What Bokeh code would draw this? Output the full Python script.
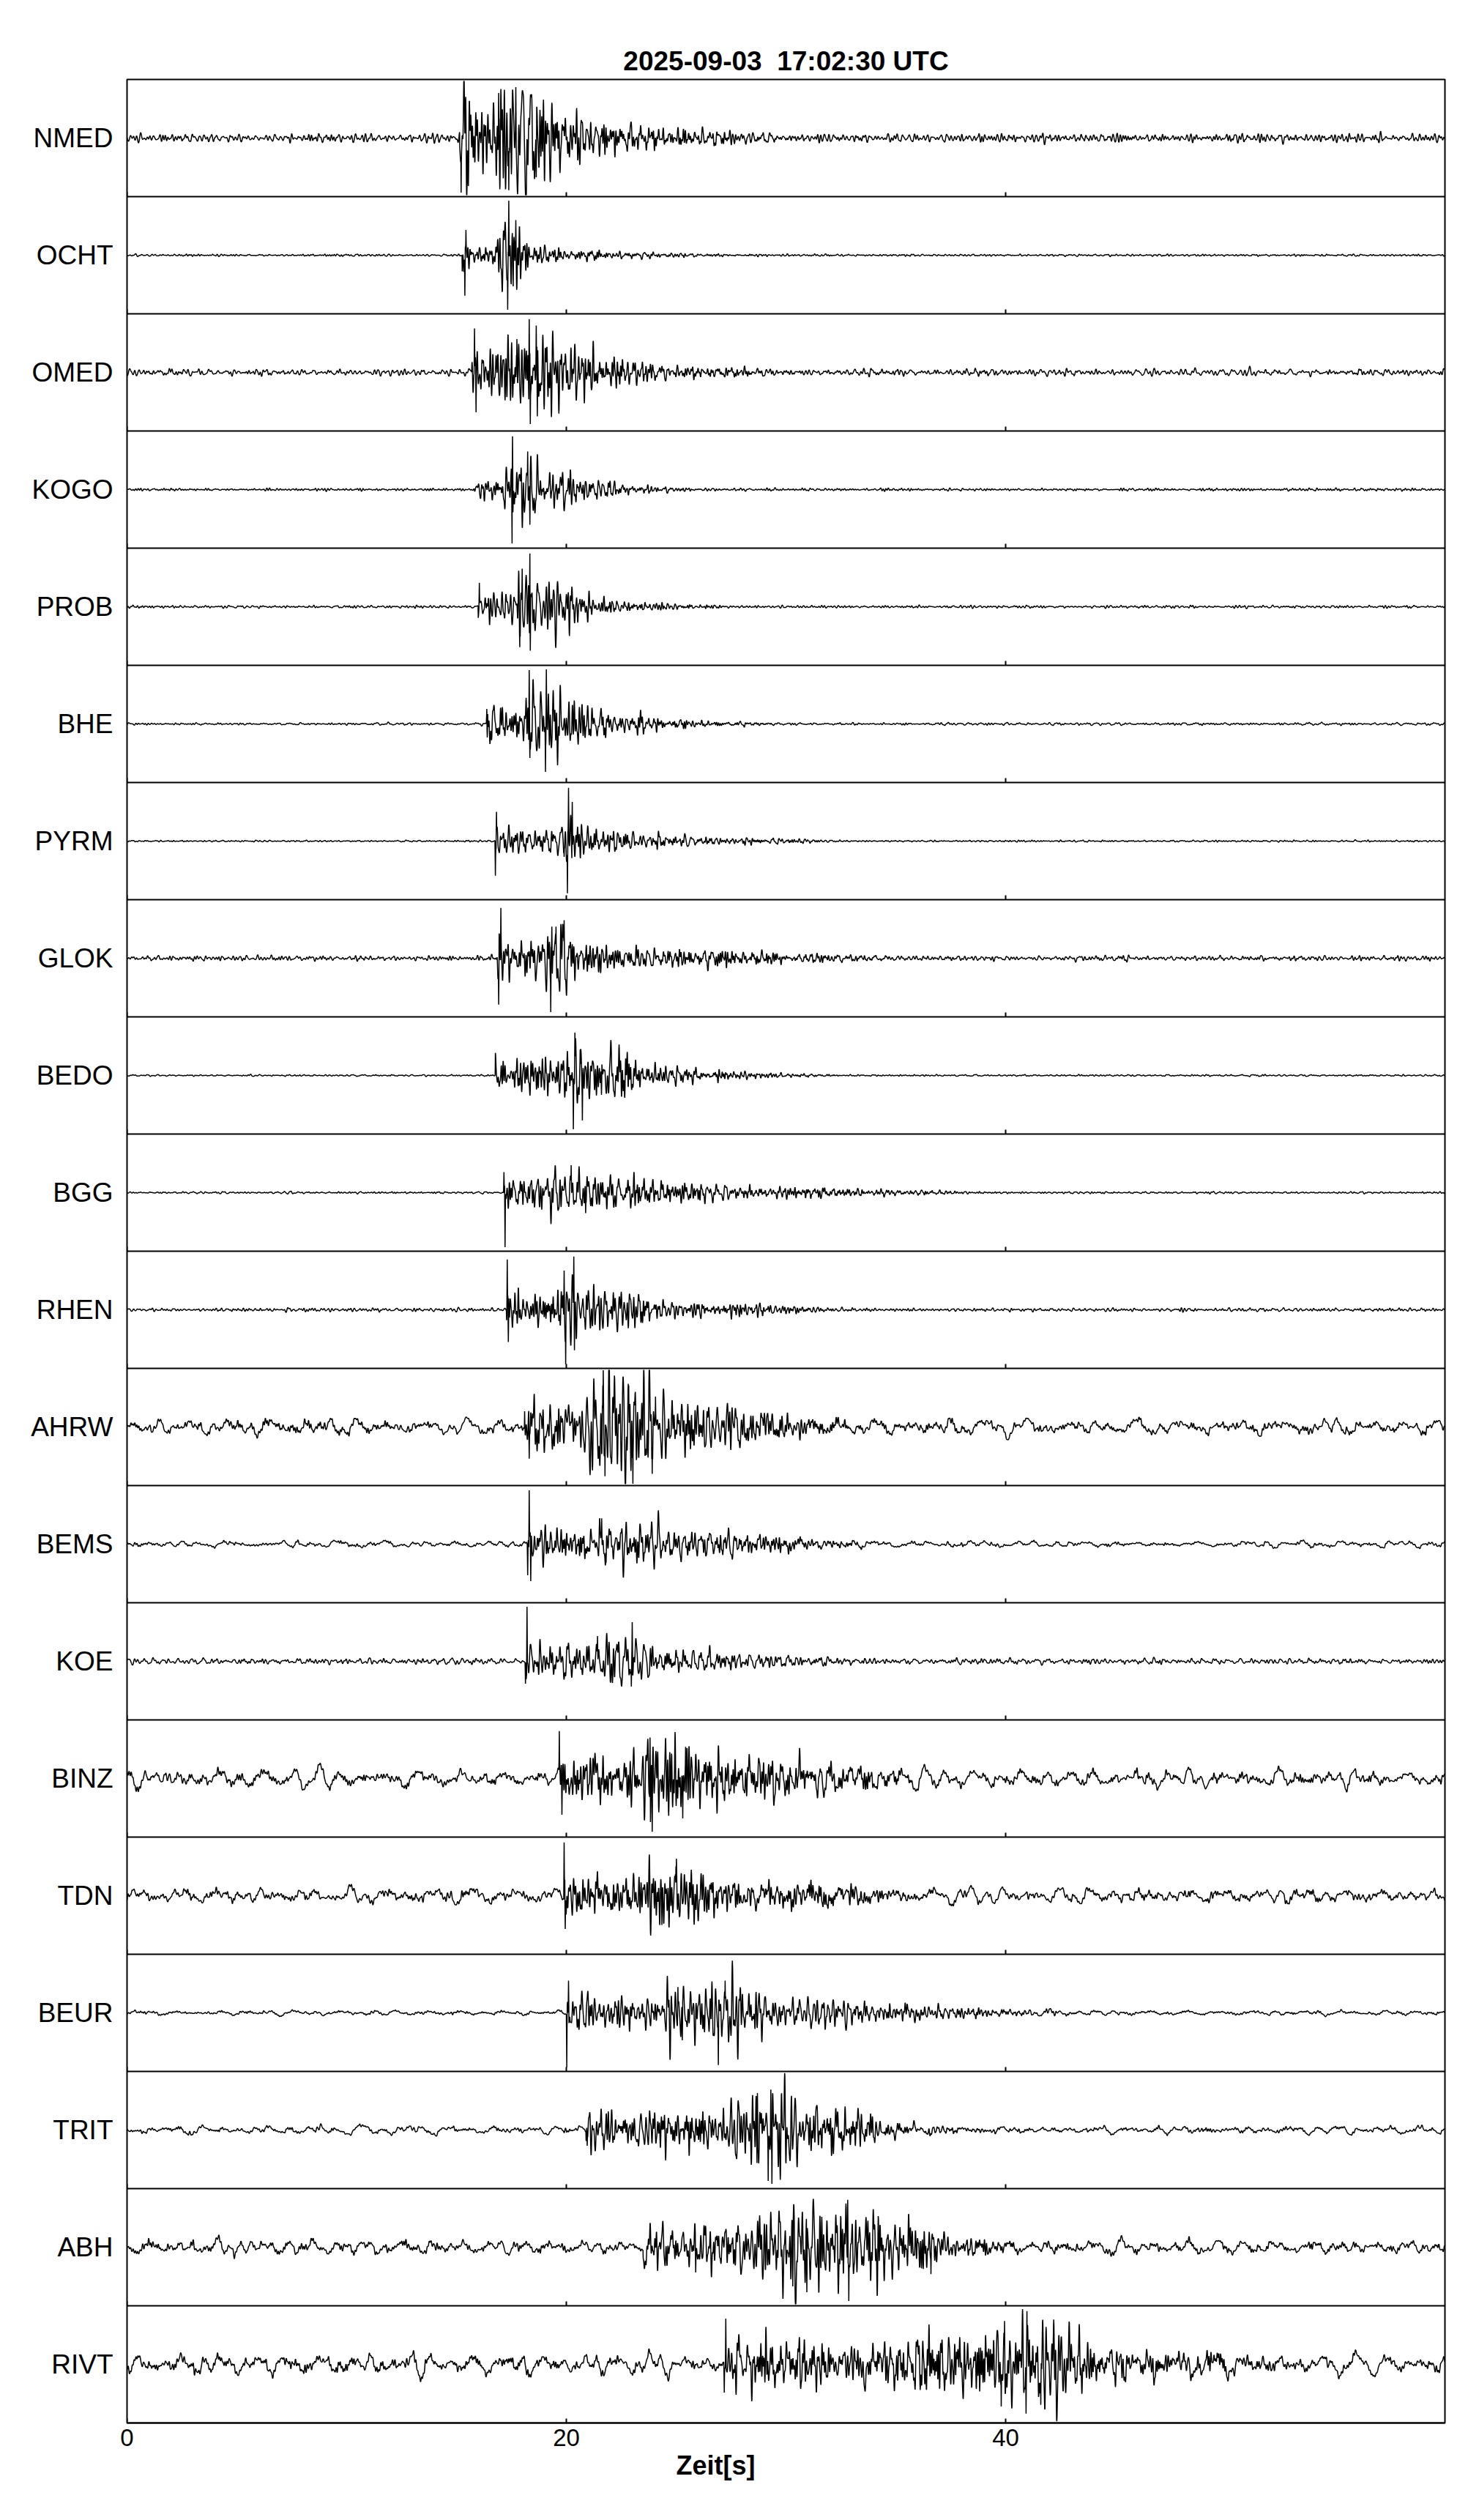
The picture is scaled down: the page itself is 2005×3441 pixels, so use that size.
import numpy as np
from bokeh.plotting import figure
from bokeh.models import Range1d, FixedTicker, Title, ColumnDataSource
from bokeh.embed import file_html
from bokeh.resources import INLINE

# ---------------- data ----------------
TITLE = "2025-09-03  17:02:30 UTC"
X_LABEL = "Zeit[s]"
X_TICKS = [0, 20, 40]
T_END = 60.0

STATIONS = ["NMED", "OCHT", "OMED", "KOGO", "PROB", "BHE", "PYRM", "GLOK", "BEDO", "BGG",
            "RHEN", "AHRW", "BEMS", "KOE", "BINZ", "TDN", "BEUR", "TRIT", "ABH", "RIVT"]

# first arrival (s)
ONSET = [15.15, 15.26, 15.70, 15.82, 15.99, 16.36, 16.77, 16.85, 16.77, 17.16,
         17.28, 18.10, 18.24, 18.17, 19.68, 19.90, 20.02, 20.90, 23.50, 27.20]

# background noise level (fraction of half panel)
NOISE = [0.05, 0.012, 0.04, 0.015, 0.015, 0.015, 0.01, 0.03, 0.01, 0.012,
         0.02, 0.11, 0.045, 0.035, 0.12, 0.10, 0.035, 0.055, 0.10, 0.13]
# long-period noise character
NOISE_LF = [False, False, False, False, False, False, False, False, False, False,
            False, True, True, False, True, True, True, True, True, True]

# amplitude envelope keypoints (time s, amplitude as fraction of half panel)
ENV_T = [
    [15.15, 16.0, 17.0, 18.0, 18.8, 19.9, 21.0, 22.3, 23.6, 25.5, 27.2],
    [15.26, 16.0, 16.8, 17.2, 18.1, 18.3, 19.9, 22.0, 24.3, 26.0],
    [15.7, 16.5, 17.2, 17.5, 19.2, 19.9, 21.6, 24.0, 27.2],
    [15.82, 16.8, 17.4, 17.6, 18.4, 19.0, 19.9, 21.1, 23.6, 25.0],
    [15.99, 17.0, 17.7, 17.8, 18.7, 19.0, 20.4, 21.1, 23.6, 25.0],
    [16.36, 17.5, 18.1, 18.2, 19.9, 20.9, 22.3, 25.3, 27.0],
    [16.77, 19.5, 19.8, 20.4, 22.3, 24.8, 28.0, 32.0],
    [16.85, 17.5, 18.5, 19.0, 19.9, 21.1, 22.3, 27.0, 29.7, 32.0],
    [16.77, 18.5, 19.5, 20.1, 20.9, 21.6, 23.6, 25.0, 27.2, 29.0],
    [17.16, 18.0, 19.5, 20.5, 21.5, 23.6, 27.2, 30.0, 32.0, 35.8, 37.0],
    [17.28, 18.0, 19.5, 19.8, 20.6, 22.8, 24.8, 27.0, 29.7, 31.0],
    [18.1, 20.5, 21.0, 21.5, 23.5, 24.2, 25.0, 27.2, 29.7, 31.0],
    [18.24, 19.5, 21.3, 21.5, 23.6, 24.8, 28.5, 31.0],
    [18.17, 19.0, 21.3, 21.5, 23.1, 24.5, 28.5, 31.0],
    [19.68, 21.0, 23.3, 23.6, 25.5, 26.0, 31.0, 33.0],
    [19.9, 21.0, 23.5, 23.8, 26.0, 27.0, 30.0, 33.0],
    [20.02, 22.0, 24.3, 24.6, 28.5, 29.7, 33.0, 37.0, 40.0],
    [20.9, 23.0, 26.0, 27.8, 28.2, 30.2, 30.9, 33.3, 35.0],
    [23.5, 26.0, 29.0, 29.9, 34.1, 34.6, 36.5, 37.5],
    [27.2, 30.0, 33.0, 37.0, 38.5, 39.5, 42.6, 43.0, 44.8, 48.6, 50.0],
]
ENV_A = [
    [0.60, 0.55, 0.70, 0.65, 0.55, 0.40, 0.30, 0.22, 0.14, 0.10, 0.07],
    [0.25, 0.15, 0.20, 0.45, 0.45, 0.15, 0.08, 0.05, 0.03, 0.015],
    [0.30, 0.28, 0.30, 0.50, 0.45, 0.32, 0.22, 0.10, 0.05],
    [0.10, 0.15, 0.30, 0.50, 0.50, 0.30, 0.25, 0.13, 0.05, 0.02],
    [0.15, 0.15, 0.25, 0.60, 0.55, 0.35, 0.30, 0.12, 0.06, 0.03],
    [0.25, 0.15, 0.20, 0.50, 0.45, 0.20, 0.12, 0.05, 0.02],
    [0.15, 0.15, 0.30, 0.25, 0.15, 0.07, 0.04, 0.01],
    [0.35, 0.25, 0.20, 0.45, 0.40, 0.25, 0.15, 0.10, 0.06, 0.04],
    [0.20, 0.20, 0.30, 0.50, 0.45, 0.35, 0.15, 0.10, 0.06, 0.03],
    [0.25, 0.20, 0.22, 0.25, 0.20, 0.16, 0.09, 0.06, 0.05, 0.03, 0.015],
    [0.30, 0.20, 0.20, 0.45, 0.40, 0.25, 0.12, 0.08, 0.05, 0.03],
    [0.35, 0.30, 0.50, 0.70, 0.65, 0.50, 0.35, 0.25, 0.18, 0.10],
    [0.25, 0.18, 0.20, 0.35, 0.30, 0.18, 0.12, 0.06],
    [0.30, 0.20, 0.20, 0.35, 0.30, 0.15, 0.10, 0.05],
    [0.35, 0.30, 0.30, 0.60, 0.50, 0.35, 0.20, 0.13],
    [0.35, 0.25, 0.22, 0.40, 0.35, 0.20, 0.13, 0.10],
    [0.25, 0.18, 0.18, 0.40, 0.40, 0.20, 0.15, 0.08, 0.04],
    [0.30, 0.25, 0.25, 0.35, 0.55, 0.50, 0.30, 0.22, 0.10],
    [0.30, 0.30, 0.35, 0.55, 0.55, 0.35, 0.30, 0.15],
    [0.30, 0.30, 0.22, 0.30, 0.35, 0.55, 0.50, 0.40, 0.20, 0.13, 0.10],
]

# largest single swings (time s, signed amplitude as fraction of half panel)
SPIKE_T = [
    [15.21, 16.92, 17.38, 17.70, 18.63],
    [15.38, 15.43, 17.33, 17.38, 17.58, 17.70],
    [15.82, 15.89, 17.75, 18.31, 18.36, 18.63, 18.68],
    [17.53, 17.55, 18.24, 18.34],
    [16.04, 17.90, 17.99, 18.34, 18.36],
    [16.40, 18.31, 18.34, 19.05, 19.09],
    [16.77, 16.82, 19.90, 20.05, 20.10, 20.27],
    [16.92, 17.02, 19.29, 19.34, 19.53, 19.90],
    [20.32, 20.39, 20.63, 20.73, 21.60],
    [17.16, 17.21, 20.22, 20.88],
    [17.31, 17.36, 19.90, 19.97, 20.34, 20.37],
    [18.31, 21.66, 21.76, 22.84, 23.03, 23.91, 24.06],
    [18.24, 18.31, 18.38, 21.61, 21.81],
    [18.14, 18.21, 21.42, 22.96, 23.00],
    [19.68, 19.80, 23.81, 23.91, 25.30, 25.43],
    [19.90, 19.95, 24.35, 24.99],
    [20.02, 20.10, 25.08, 25.28, 26.92, 27.23],
    [20.95, 28.70, 29.19, 29.31, 29.36],
    [25.89, 30.31, 30.95, 32.81, 32.86, 36.60],
    [27.19, 27.26, 39.80, 39.95, 40.93, 40.97, 41.60],
]
SPIKE_A = [
    [-0.93, 0.77, -0.89, 0.87, -0.67],
    [-0.69, 0.43, -0.93, 0.93, -0.53, 0.60],
    [0.75, -0.68, 0.57, 0.91, -0.88, 0.80, -0.75],
    [-0.92, 0.91, 0.65, -0.60],
    [0.41, -0.51, 0.65, 0.91, -0.75],
    [-0.23, 0.92, -0.58, -0.82, 0.93],
    [-0.59, 0.50, -0.27, -0.89, 0.91, 0.67],
    [-0.79, 0.86, -0.92, 0.54, 0.54, 0.65],
    [-0.92, 0.73, 0.44, -0.77, -0.33],
    [0.35, -0.93, 0.47, -0.35],
    [0.86, -0.55, 0.67, -0.93, 0.91, -0.69],
    [-0.54, 0.71, -0.84, 0.71, -0.97, -0.80, 0.52],
    [-0.53, 0.92, -0.63, 0.44, -0.32],
    [-0.38, 0.93, 0.43, -0.43, 0.67],
    [0.81, -0.62, 0.70, -0.91, -0.68, 0.54],
    [0.91, -0.57, -0.50, 0.50],
    [-0.93, 0.55, 0.44, -0.47, -0.89, 0.55],
    [-0.27, 0.63, -0.87, 0.69, -0.92],
    [-0.43, -0.67, -0.77, 0.81, -0.92, -0.46],
    [-0.48, 0.78, -0.72, 0.74, -0.84, 0.91, -0.69],
]

# ---------------- drawing helpers ----------------
FS = 100.0  # samples per second of the drawn trace
FADE = 4.0  # seconds over which the coda fades out after the last keypoint
t = np.arange(0.0, T_END + 1e-9, 1.0 / FS)


def _frac(v):
    return v - np.floor(v)


def oscillation(tt, seed, fmin, fmax, n=48):
    """Deterministic irregular wiggle used to draw a trace inside its read envelope."""
    k = np.arange(1, n + 1) + 97.0 * seed
    h1 = _frac(np.sin(k * 12.9898) * 43758.5453)
    h2 = _frac(np.sin(k * 78.233) * 43758.5453)
    f = fmin + (fmax - fmin) * h1
    ph = 2 * np.pi * h2
    w = 1.0 / np.sqrt(f)
    s = (w * np.sin(2 * np.pi * np.outer(tt, f) + ph)).sum(axis=1)
    rms = np.sqrt((w ** 2).sum() / 2.0)
    return s / (1.6 * rms)


p = figure(frame_width=1800, frame_height=3200,
           x_range=Range1d(0, T_END), y_range=Range1d(-0.5, 19.5),
           output_backend="svg", toolbar_location=None,
           min_border_left=173, min_border_right=24,
           min_border_top=108, min_border_bottom=100,
           background_fill_color="white", border_fill_color="white")

p.outline_line_color = "black"
p.outline_line_width = 2
p.outline_line_alpha = 1.0

# panel separators
p.xgrid.visible = False
p.ygrid.ticker = FixedTicker(ticks=[k + 0.5 for k in range(len(STATIONS) - 1)])
p.ygrid.grid_line_color = "black"
p.ygrid.grid_line_width = 2
p.ygrid.grid_line_alpha = 1.0

n_st = len(STATIONS)
centers = [n_st - 1 - i for i in range(n_st)]

# station labels on the y axis
p.yaxis.ticker = FixedTicker(ticks=centers)
p.yaxis.major_label_overrides = {c: s for c, s in zip(centers, STATIONS)}
p.yaxis.axis_line_color = None
p.yaxis.major_tick_line_color = None
p.yaxis.minor_tick_line_color = None
p.yaxis.major_tick_in = 0
p.yaxis.major_tick_out = 0
p.yaxis.major_label_standoff = 19
p.yaxis.major_label_text_font = "Liberation Sans"
p.yaxis.major_label_text_font_size = "37px"
p.yaxis.major_label_text_color = "black"

# time axis
p.xaxis.ticker = FixedTicker(ticks=X_TICKS)
p.xaxis.major_tick_in = 0
p.xaxis.major_tick_out = 0
p.xaxis.minor_tick_line_color = None
p.xaxis.axis_line_width = 2
p.xaxis.axis_line_color = "black"
p.xaxis.major_label_standoff = 8
p.xaxis.major_label_text_font = "Liberation Sans"
p.xaxis.major_label_text_font_size = "33px"
p.xaxis.major_label_text_color = "black"

# title (a no-break space keeps the double gap of the original)
p.title.text = TITLE.replace("  ", "\u00a0 ")
p.title.align = "center"
p.title.text_font = "Liberation Sans"
p.title.text_font_size = "37px"
p.title.text_font_style = "bold"
p.title.text_color = "black"
p.title.standoff = 10

# x label (sits left of centre in the reference)
p.add_layout(Title(text=X_LABEL, align="left", offset=750,
                   text_font="Liberation Sans", text_font_size="36px",
                   text_font_style="bold", text_color="black", standoff=2), "below")

# small inward ticks at the bottom of each panel
tick_x0, tick_y0, tick_y1 = [], [], []
for i in range(n_st):
    b = centers[i] - 0.5
    for xt in X_TICKS:
        tick_x0.append(xt)
        tick_y0.append(b)
        tick_y1.append(b + 6.0 / 160.0)
p.segment(x0=tick_x0, y0=tick_y0, x1=tick_x0, y1=tick_y1, line_color="black", line_width=2)

# traces
for i, name in enumerate(STATIONS):
    t_last = ENV_T[i][-1]
    env = np.interp(t, ENV_T[i], ENV_A[i], left=0.0, right=0.0)
    tail = ENV_A[i][-1] * np.clip(1.0 - (t - t_last) / FADE, 0.0, 1.0)
    env = np.where(t > t_last, tail, env)
    env = env * (t >= ONSET[i])
    sig = env * oscillation(t, 3 * i + 1, 2.0, 14.0)
    if NOISE_LF[i]:
        nz = NOISE[i] * (0.85 * oscillation(t, 3 * i + 2, 0.4, 2.2, 40)
                         + 0.35 * oscillation(t, 3 * i + 3, 3.0, 12.0, 40))
    else:
        nz = NOISE[i] * oscillation(t, 3 * i + 2, 1.5, 10.0, 48)
    y = sig + nz
    for ts, a in zip(SPIKE_T[i], SPIKE_A[i]):
        idx = int(round(ts * FS))
        y[idx] = a
        if idx + 1 < len(y):
            y[idx + 1] = 0.45 * a
        if idx - 1 >= 0:
            y[idx - 1] = 0.45 * a
    y = np.clip(y, -0.97, 0.97)
    src = ColumnDataSource(data=dict(x=t, y=centers[i] + 0.5 * y))
    p.line("x", "y", source=src, line_color="black", line_width=1.5)

open("out.html", "w").write(file_html(p, INLINE))
